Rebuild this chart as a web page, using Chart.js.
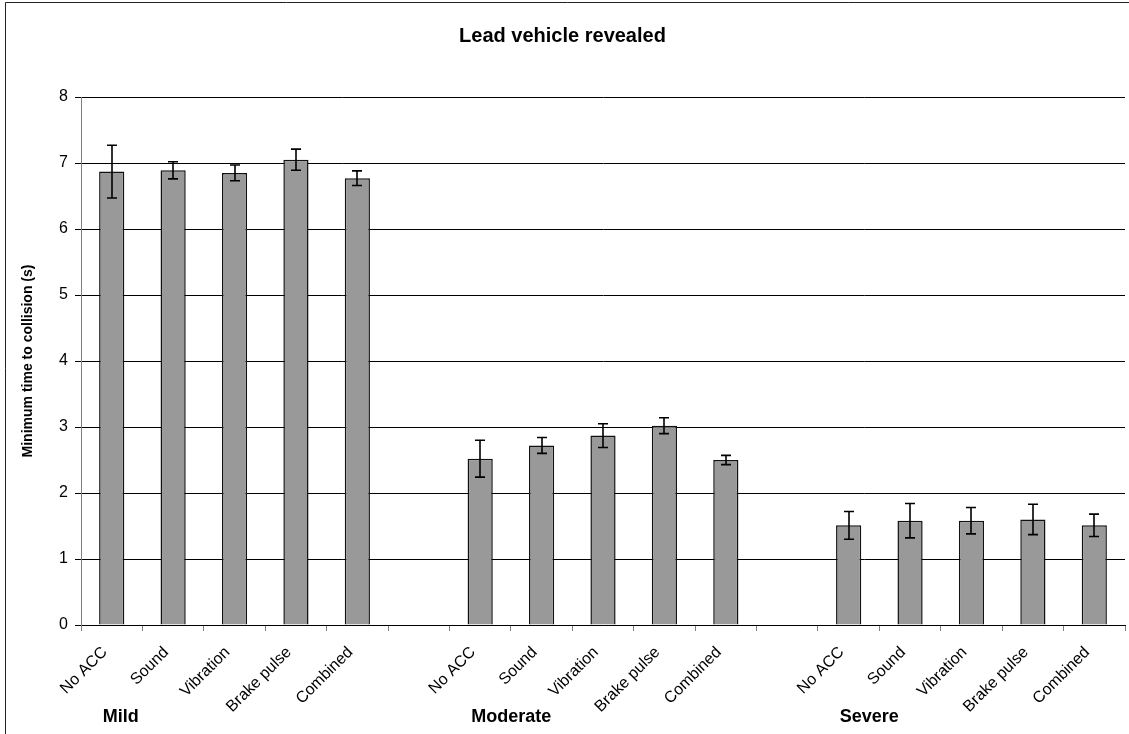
<!DOCTYPE html>
<html>
<head>
<meta charset="utf-8">
<title>Lead vehicle revealed</title>
<script src="https://cdn.jsdelivr.net/npm/chart.js@4.4.1/dist/chart.umd.min.js"></script>
<style>
  html, body { margin: 0; padding: 0; background: #fff; }
  #wrap { position: relative; width: 1129px; height: 734px; }
</style>
</head>
<body>
<div id="wrap"><canvas id="ttc-chart"></canvas></div>
<script>
// data
const conditions = ["No ACC", "Sound", "Vibration", "Brake pulse", "Combined"];
const groups = ["Mild", "Moderate", "Severe"];
const mildMeans = [6.87, 6.89, 6.85, 7.05, 6.77];
const mildErrors = [0.40, 0.13, 0.12, 0.16, 0.11];
const moderateMeans = [2.52, 2.72, 2.87, 3.02, 2.50];
const moderateErrors = [0.28, 0.12, 0.18, 0.12, 0.07];
const severeMeans = [1.51, 1.58, 1.58, 1.60, 1.51];
const severeErrors = [0.21, 0.26, 0.20, 0.23, 0.17];
const yMin = 0, yMax = 8, yStep = 1;

// one empty slot between the groups
const labels = [...conditions, "", ...conditions, "", ...conditions];
const means = [...mildMeans, null, ...moderateMeans, null, ...severeMeans];
const errors = [...mildErrors, null, ...moderateErrors, null, ...severeErrors];
const groupStarts = [0, conditions.length + 1, 2 * (conditions.length + 1)];

const FONT = "'Liberation Sans', Arial, sans-serif";

const framePlugin = {
    id: 'frame',
    beforeDraw(chart) {
        const ctx = chart.ctx;
        ctx.save();
        ctx.strokeStyle = '#222';
        ctx.lineWidth = 1;
        ctx.beginPath();
        ctx.moveTo(5.5, chart.height);
        ctx.lineTo(5.5, 2.5);
        ctx.lineTo(chart.width, 2.5);
        ctx.stroke();
        ctx.restore();
    }
};

const errorBarPlugin = {
    id: 'errorBars',
    afterDatasetsDraw(chart) {
        const ctx = chart.ctx;
        const y = chart.scales.y;
        const meta = chart.getDatasetMeta(0);
        ctx.save();
        ctx.strokeStyle = '#000';
        ctx.lineWidth = 1.6;
        meta.data.forEach((bar, i) => {
            if (means[i] == null) return;
            const top = y.getPixelForValue(means[i] + errors[i]);
            const bot = y.getPixelForValue(means[i] - errors[i]);
            const x = Math.round(bar.x);
            ctx.beginPath();
            ctx.moveTo(x, top);
            ctx.lineTo(x, bot);
            ctx.moveTo(x - 5, top);
            ctx.lineTo(x + 5, top);
            ctx.moveTo(x - 5, bot);
            ctx.lineTo(x + 5, bot);
            ctx.stroke();
        });
        ctx.restore();
    }
};

const groupLabelPlugin = {
    id: 'groupLabels',
    afterDraw(chart) {
        const ctx = chart.ctx;
        const x = chart.scales.x;
        ctx.save();
        ctx.fillStyle = '#000';
        ctx.font = "bold 18px " + FONT;
        ctx.textAlign = 'left';
        ctx.textBaseline = 'alphabetic';
        groups.forEach((g, k) => {
            ctx.fillText(g, x.getPixelForValue(groupStarts[k]) - 9, 722);
        });
        ctx.restore();
    }
};

new Chart(document.getElementById("ttc-chart"), {
    type: 'bar',
    data: {
        labels: labels,
        datasets: [{
            data: means,
            backgroundColor: "#999999",
            borderColor: "#111",
            borderWidth: 1.5,
            barPercentage: 0.41,
            categoryPercentage: 1,
            skipNull: true
        }]
    },
    plugins: [framePlugin, errorBarPlugin, groupLabelPlugin],
    options: {
        maintainAspectRatio: false,
        responsive: true,
        animation: false,
        layout: { padding: { left: 0, right: 4, top: 0, bottom: 0 } },
        plugins: {
            legend: { display: false },
            tooltip: { enabled: false },
            title: {
                display: true,
                text: 'Lead vehicle revealed',
                color: '#000',
                font: { family: FONT, size: 20, weight: 'bold', lineHeight: 1.2 },
                padding: { top: 24, bottom: 49 }
            }
        },
        scales: {
            x: {
                afterFit(scale) { scale.height = 109; },
                grid: {
                    display: true,
                    drawOnChartArea: false,
                    offset: true,
                    tickLength: 6,
                    color: '#808080'
                },
                border: { color: '#000' },
                ticks: {
                    autoSkip: false,
                    minRotation: 45,
                    maxRotation: 45,
                    color: '#000',
                    padding: 12,
                    labelOffset: -7,
                    font: { family: FONT, size: 16 }
                }
            },
            y: {
                min: yMin,
                max: yMax,
                afterFit(scale) { scale.width = 81; },
                grid: { color: '#000', tickLength: 6 },
                border: { color: '#808080' },
                ticks: {
                    stepSize: yStep,
                    color: '#000',
                    padding: 7,
                    font: { family: FONT, size: 16 }
                },
                title: {
                    display: true,
                    text: 'Minimum time to collision (s)',
                    color: '#000',
                    font: { family: FONT, size: 14, weight: 'bold' },
                    padding: { top: 20, bottom: 0 }
                }
            }
        }
    }
});
</script>
</body>
</html>
